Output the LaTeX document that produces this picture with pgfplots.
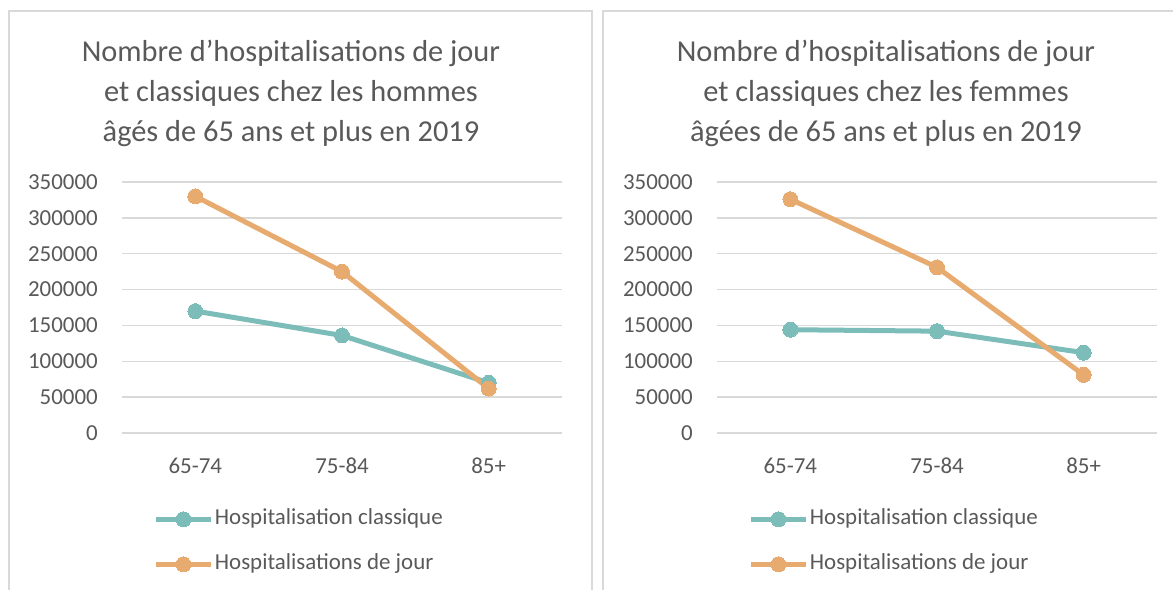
\documentclass[border=0pt]{standalone}
\usepackage{fontspec}
\setmainfont{Carlito}
\usepackage{pgfplots}
\pgfplotsset{compat=1.18}
\definecolor{myteal}{RGB}{124,189,186}
\definecolor{myorange}{RGB}{231,170,111}
\definecolor{txt}{RGB}{89,89,89}
\definecolor{gridc}{RGB}{217,217,217}
\definecolor{framec}{RGB}{217,217,217}
\pgfplotsset{
  mystyle/.style={
    scale only axis, width=440bp, height=251bp,
    anchor=south west,
    xmin=-0.5, xmax=2.5, ymin=0, ymax=350000,
    xtick={0,1,2}, xticklabels={65-74,75-84,85+},
    ytick={0,50000,100000,150000,200000,250000,300000,350000},
    scaled y ticks=false,
    /pgf/number format/assume math mode=true,
    yticklabel style={/pgf/number format/fixed, /pgf/number format/1000 sep={}, anchor=east, inner sep=0pt, xshift=-24bp},
    xticklabel style={anchor=north, inner sep=0pt, yshift=-25bp},
    ticklabel style={font=\fontsize{23}{28}\selectfont, text=txt},
    axis line style={draw=none},
    major tick length=0pt,
    ymajorgrids, grid style={gridc, line width=1.5bp},
    clip=false,
    legend style={draw=none, fill=none, font=\fontsize{23}{28}\selectfont, text=txt,
      at={(0.0714,-0.294)}, anchor=north west, inner sep=0pt, outer sep=0pt,
      row sep=20bp, nodes={text height=16bp, text depth=6bp, inner sep=1.5bp}},
    legend cell align=left,
    legend image code/.code={
      \draw[##1, mark=none] (0bp,0bp) -- (55bp,0bp);
      \draw[##1, only marks] plot coordinates {(27.5bp,0bp)};
    },
  },
  ser/.style={color=#1, line width=5bp, mark=*, mark size=7.5bp, mark options={solid, fill=#1, draw=#1, line width=0pt}},
}
\begin{document}
\begin{tikzpicture}[x=1bp,y=1bp]
\useasboundingbox (0,0) rectangle (1173,590);
\clip (0,0) rectangle (1173,590);
\fill[white] (0,0) rectangle (1173,590);
% frames
\draw[framec, line width=1.5bp] (9,-5) -- (9,579) -- (592,579) -- (592,-5);
\draw[framec, line width=1.5bp] (603,-5) -- (603,579) -- (1185,579) -- (1185,-5);
% titles
\begin{scope}[every node/.style={anchor=base, text=txt, font=\fontsize{30.5}{36}\selectfont, inner sep=0pt}]
\node at (291,528) {Nombre d’hospitalisations de jour};
\node at (291,488) {et classiques chez les hommes};
\node at (291,448) {âgés de 65 ans et plus en 2019};
\node at (886,528) {Nombre d’hospitalisations de jour};
\node at (886,488) {et classiques chez les femmes};
\node at (886,448) {âgées de 65 ans et plus en 2019};
\end{scope}
\begin{axis}[mystyle, at={(122bp,157bp)}]
\addplot[ser=myteal] coordinates {(0,170000) (1,136000) (2,70000)};
\addlegendentry{Hospitalisation classique}
\addplot[ser=myorange] coordinates {(0,330000) (1,225000) (2,62000)};
\addlegendentry{Hospitalisations de jour}
\end{axis}
\begin{axis}[mystyle, at={(717bp,157bp)}]
\addplot[ser=myteal] coordinates {(0,144000) (1,142000) (2,112000)};
\addlegendentry{Hospitalisation classique}
\addplot[ser=myorange] coordinates {(0,326000) (1,231000) (2,81000)};
\addlegendentry{Hospitalisations de jour}
\end{axis}
\end{tikzpicture}
\end{document}
